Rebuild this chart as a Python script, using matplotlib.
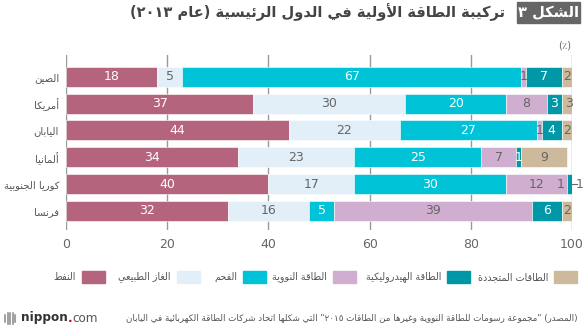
import re
import matplotlib
matplotlib.use("Agg")
import matplotlib.pyplot as plt
from matplotlib.patches import Rectangle
from matplotlib.lines import Line2D

plt.rcParams['font.family'] = ['DejaVu Sans']

# ---- data (share of primary energy, %) ----
countries = ['الصين', 'أمريكا', 'اليابان', 'ألمانيا', 'كوريا الجنوبية', 'فرنسا']
oil = [18, 37, 44, 34, 40, 32]
gas = [5, 30, 22, 23, 17, 16]
coal = [67, 20, 27, 25, 30, 5]
nuclear = [1, 8, 1, 7, 12, 39]
hydro = [7, 3, 4, 1, 1, 6]
renewables = [2, 3, 2, 9, 1, 2]
series_names = ['النفط', 'الغاز الطبيعي', 'الفحم', 'الطاقة النووية',
                'الطاقة الهيدروليكية', 'الطاقات المتجددة']
xticks = [0, 20, 40, 60, 80, 100]

title = 'تركيبة الطاقة الأولية في الدول الرئيسية (عام ٢٠١٣)'
fig_no = 'الشكل ٣'
unit = '(٪)'
source = ('(المصدر) "مجموعة رسومات للطاقة النووية وغيرها من الطاقات ٢٠١٥" '
          'التي شكلها اتحاد شركات الطاقة الكهربائية في اليابان')

colors = ['#b5647e', '#e2eff8', '#00c3d8', '#d0aed0', '#0097a7', '#cdb99b']
txt_colors = ['white', '#666666', 'white', '#666666', 'white', '#666666']

# ---- minimal Arabic shaping + right-to-left ordering ----
_dual = {'ئ': 0xFE89, 'ب': 0xFE8F, 'ت': 0xFE95, 'ث': 0xFE99, 'ج': 0xFE9D,
         'ح': 0xFEA1, 'خ': 0xFEA5, 'س': 0xFEB1, 'ش': 0xFEB5, 'ص': 0xFEB9,
         'ض': 0xFEBD, 'ط': 0xFEC1, 'ظ': 0xFEC5, 'ع': 0xFEC9, 'غ': 0xFECD,
         'ف': 0xFED1, 'ق': 0xFED5, 'ك': 0xFED9, 'ل': 0xFEDD, 'م': 0xFEE1,
         'ن': 0xFEE5, 'ه': 0xFEE9, 'ي': 0xFEF1}
_right = {'آ': 0xFE81, 'أ': 0xFE83, 'ؤ': 0xFE85, 'إ': 0xFE87, 'ا': 0xFE8D,
          'ة': 0xFE93, 'د': 0xFEA9, 'ذ': 0xFEAB, 'ر': 0xFEAD, 'ز': 0xFEAF,
          'و': 0xFEED, 'ى': 0xFEEF}
_lamalef = {'آ': 0xFEF5, 'أ': 0xFEF7, 'إ': 0xFEF9, 'ا': 0xFEFB}
_mirror = {'(': ')', ')': '('}


def ar(s):
    toks = []  # (char, base code, joining type)
    i = 0
    while i < len(s):
        c = s[i]
        if c == 'ل' and i + 1 < len(s) and s[i + 1] in _lamalef:
            toks.append((c, _lamalef[s[i + 1]], 'R'))
            i += 2
            continue
        if c in _dual:
            toks.append((c, _dual[c], 'D'))
        elif c in _right:
            toks.append((c, _right[c], 'R'))
        else:
            toks.append((c, None, 'U'))
        i += 1
    out = []
    for k, (c, base, jt) in enumerate(toks):
        if base is None:
            out.append(c)
            continue
        prev = k > 0 and toks[k - 1][2] == 'D'
        nxt = jt == 'D' and k + 1 < len(toks) and toks[k + 1][2] in 'DR'
        if prev and nxt:
            off = 3
        elif nxt:
            off = 2
        elif prev:
            off = 1
        else:
            off = 0
        out.append(chr(base + off))
    runs = re.findall(r'[0-9\u0660-\u0669]+|.', ''.join(out))
    return ''.join(_mirror.get(r, r) for r in reversed(runs))


fig = plt.figure(figsize=(5.84, 3.30), dpi=100)
renderer = fig.canvas.get_renderer()


def fit(t, width_px):
    # scale a text's font size so it spans the given pixel width
    w = t.get_window_extent(renderer).width
    t.set_fontsize(t.get_fontsize() * width_px / w)
    return t


# ---- bars ----
ax = fig.add_axes([66 / 584, 1 - 230 / 330, 506 / 584, 175 / 330])

series = [oil, gas, coal, nuclear, hydro, renewables]
ypos = list(range(len(countries)))
left = [0] * len(countries)
for s, vals in enumerate(series):
    ax.barh(ypos, vals, left=left, height=0.74, color=colors[s],
            edgecolor='white', linewidth=0.4, zorder=2)
    for r, v in enumerate(vals):
        xc = left[r] + v / 2
        col = txt_colors[s]
        if r == 4 and s == 4:
            # thin sliver: label sits on the lilac segment
            xc, col = left[r] - 1.3, '#666666'
        if r == 4 and s == 5:
            ax.plot([left[r], left[r] + 1.0], [r, r], color='#666666',
                    lw=0.8, clip_on=False, zorder=3)
            ax.text(left[r] + 1.5, r, str(v), ha='center', va='center',
                    fontsize=9, color='#666666', clip_on=False)
            continue
        ax.text(xc, r, str(v), ha='center', va='center', fontsize=9,
                color=col, zorder=4)
    left = [a + b for a, b in zip(left, vals)]

ax.set_xlim(0, 100)
ax.set_ylim(5.71, -0.81)
ax.set_xticks(xticks)
ax.set_xticklabels([str(t) for t in xticks])
ax.set_yticks(ypos)
ax.set_yticklabels([ar(c) for c in countries])
ax.tick_params(axis='both', length=0, colors='#666666', labelsize=9)
ax.tick_params(axis='x', pad=6)
ax.tick_params(axis='y', pad=5, labelsize=7.2)
for lab in ax.get_yticklabels():
    lab.set_color('#555555')
for t in xticks:
    ax.axvline(t, color='#9a9a9a', lw=1.0, zorder=1)
for sp in ax.spines.values():
    sp.set_visible(False)

# ---- title ----
fig.add_artist(Rectangle((517 / 584, 1 - 23 / 330), 63 / 584, 21 / 330,
                         transform=fig.transFigure, color='#666666'))
fig.text(548 / 584, 1 - 12.5 / 330, ar(fig_no), ha='center', va='center',
         fontsize=10.5, weight='bold', color='white')
t = fig.text(505 / 584, 1 - 12.5 / 330, ar(title), ha='right', va='center',
             fontsize=11, weight='bold', color='#444444')
fit(t, 375)
fig.text(571 / 584, 1 - 46 / 330, ar(unit), ha='right', va='center',
         fontsize=7, color='#666666')

# ---- legend (right to left) ----
patch_right = [105, 200, 266, 356, 470, 577]
leg_texts = []
for s in range(len(series_names)):
    x1 = patch_right[s]
    fig.add_artist(Rectangle(((x1 - 23) / 584, 1 - 283 / 330), 23 / 584, 12 / 330,
                             transform=fig.transFigure, color=colors[s]))
    leg_texts.append(fig.text((x1 - 29) / 584, 1 - 277 / 330, ar(series_names[s]),
                              ha='right', va='center', fontsize=8, color='#555555'))
fit(leg_texts[4], 76)
for lt in leg_texts:
    lt.set_fontsize(leg_texts[4].get_fontsize())

# ---- source + logo ----
t = fig.text(578 / 584, 1 - 318 / 330, ar(source), ha='right', va='center',
             fontsize=7, color='#555555')
fit(t, 452)
for i, x in enumerate([5, 7.5, 10, 12.5, 15]):
    h = 3.5 if i in (0, 4) else 5.5
    fig.add_artist(Line2D([x / 584, x / 584],
                          [1 - (318 + h) / 330, 1 - (318 - h) / 330],
                          transform=fig.transFigure, color='#888888', lw=1.1))
t1 = fig.text(21 / 584, 1 - 318 / 330, 'nippon', ha='left', va='center',
              fontsize=9.5, weight='bold', color='#333333')
fit(t1, 47)
x_end = t1.get_window_extent(renderer).x1 / fig.bbox.width
t2 = fig.text(x_end, 1 - 318 / 330, '.', ha='left', va='center',
              fontsize=t1.get_fontsize(), weight='bold', color='#e60012')
x_end = t2.get_window_extent(renderer).x1 / fig.bbox.width
t3 = fig.text(x_end, 1 - 318 / 330, 'com', ha='left', va='center',
              fontsize=t1.get_fontsize(), color='#555555')

fig.savefig('out.png', dpi=100)
